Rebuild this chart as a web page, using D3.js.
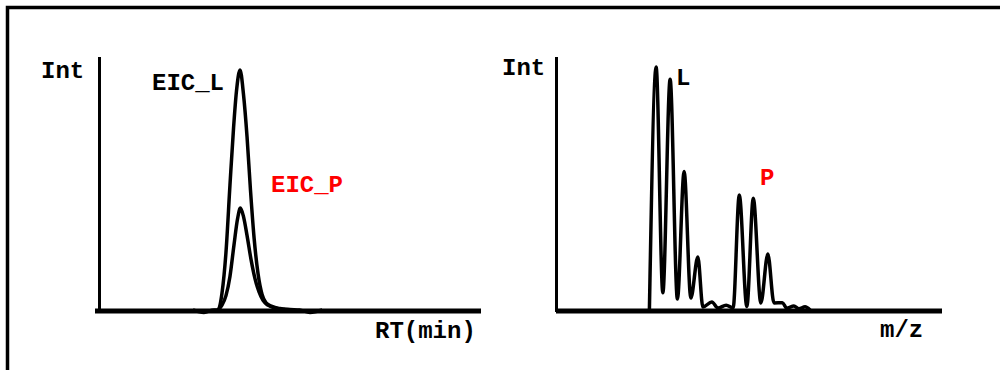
<!DOCTYPE html>
<html>
<head>
<meta charset="utf-8">
<script src="https://cdn.jsdelivr.net/npm/d3@7"></script>
<style>
  body { margin: 0; background: #fff; }
  text { font-family: 'Courier New', 'Nimbus Mono PS', 'FreeMono', 'Liberation Mono', monospace; font-weight: bold; font-size: 24px; }
</style>
</head>
<body>
<script>
const width = 1000
const height = 370

// EIC traces (retention time, min / relative intensity)
const rtL = [4.89, 5.47, 6.0, 6.21, 6.42, 6.63, 6.84, 7.03, 7.18, 7.37, 7.55, 7.74, 7.92, 8.11, 8.32, 8.53, 8.74, 9.05, 9.47, 10.0, 10.5, 11.05, 11.7]
const eicL = [0, -1, 0, 0, 7, 24, 52, 76, 91, 100, 90, 72, 50, 30, 15, 6.5, 3, 1.5, 0.6, 0.2, 0, -1, 0]
const rtP = [6.21, 6.42, 6.63, 6.84, 7.05, 7.24, 7.39, 7.55, 7.74, 7.95, 8.16, 8.37, 8.58, 8.84, 9.21, 9.74]
const eicP = [0, 2, 6, 14, 27, 38, 42.5, 39, 31, 21, 13, 7.5, 4, 2, 0.8, 0.2]

// mass spectrum (m/z / relative intensity)
const mz = [703.30, 703.54, 703.78, 704.04, 704.30, 704.54, 704.78, 705.03, 705.21, 705.53, 705.75, 706.04, 706.29,
  706.51, 706.78, 707.01, 707.28, 707.53, 707.75, 708.05, 708.20, 708.46, 708.64, 708.86, 709.04]
const ms = [0, 100, 7.1, 95, 4.5, 57, 4.9, 21.8, 1.2, 3.3, 0.8, 2, 0.8,
  47.3, 1.4, 46, 2.9, 23, 2.9, 3, 0.8, 1.6, 0.5, 1.3, 0]

const labels = { eicY: 'Int', eicX: 'RT(min)', eicL: 'EIC_L', eicP: 'EIC_P', msY: 'Int', msX: 'm/z', msL: 'L', msP: 'P' }

const svg = d3.select('body')
  .append('svg')
  .attr('width', width)
  .attr('height', height)

// outer frame (only top and left edges visible)
svg.append('path')
  .attr('d', `M7.5,${height}V7.5H${width}`)
  .attr('fill', 'none')
  .attr('stroke', '#000')
  .attr('stroke-width', 3.5)

const xRT = d3.scaleLinear().domain([0, 20]).range([100, 480])
const yRT = d3.scaleLinear().domain([0, 100]).range([310, 70])
const xMZ = d3.scaleLinear().domain([700, 713.75]).range([557, 942])
const yMZ = d3.scaleLinear().domain([0, 100]).range([310, 67])

const drawAxes = (x, y, xLeft, xRight) => {
  svg.append('g')
    .attr('transform', 'translate(0,1)')
    .call(d3.axisBottom(x).tickValues([]).tickSizeOuter(0))
    .call(g => g.select('.domain')
      .attr('d', `M${xLeft},310H${xRight}`)
      .attr('stroke-width', 5))

  svg.append('g')
    .attr('transform', `translate(${x.range()[0] - 0.5},0)`)
    .call(d3.axisLeft(y).tickValues([]).tickSizeOuter(0))
    .call(g => g.select('.domain')
      .attr('d', `M0,57V312`)
      .attr('stroke-width', 3))
}

drawAxes(xRT, yRT, 95, 481)
drawAxes(xMZ, yMZ, 556, 942)

const lineRT = d3.line()
  .x(d => xRT(d[0]))
  .y(d => yRT(d[1]))
  .curve(d3.curveMonotoneX)

const lineMZ = d3.line()
  .x(d => xMZ(d[0]))
  .y(d => yMZ(d[1]))
  .curve(d3.curveMonotoneX)

svg.append('path')
  .attr('d', lineRT(d3.zip(rtL, eicL)))
  .attr('fill', 'none')
  .attr('stroke', '#000')
  .attr('stroke-width', 3.5)

svg.append('path')
  .attr('d', lineRT(d3.zip(rtP, eicP)))
  .attr('fill', 'none')
  .attr('stroke', '#000')
  .attr('stroke-width', 3.5)

svg.append('path')
  .attr('d', lineMZ(d3.zip(mz, ms)))
  .attr('fill', 'none')
  .attr('stroke', '#000')
  .attr('stroke-width', 3.5)
  .attr('stroke-linejoin', 'round')

const addText = (txt, x, y, color) => svg.append('text')
  .attr('x', x)
  .attr('y', y)
  .attr('fill', color || '#000')
  .text(txt)

addText(labels.eicY, 41, 78)
addText(labels.eicL, 152, 90)
addText(labels.eicP, 271, 192, '#ff0000')
addText(labels.eicX, 375, 338)
addText(labels.msY, 502, 75)
addText(labels.msL, 676, 85)
addText(labels.msP, 760, 185, '#ff0000')
addText(labels.msX, 880, 337)
</script>
</body>
</html>
